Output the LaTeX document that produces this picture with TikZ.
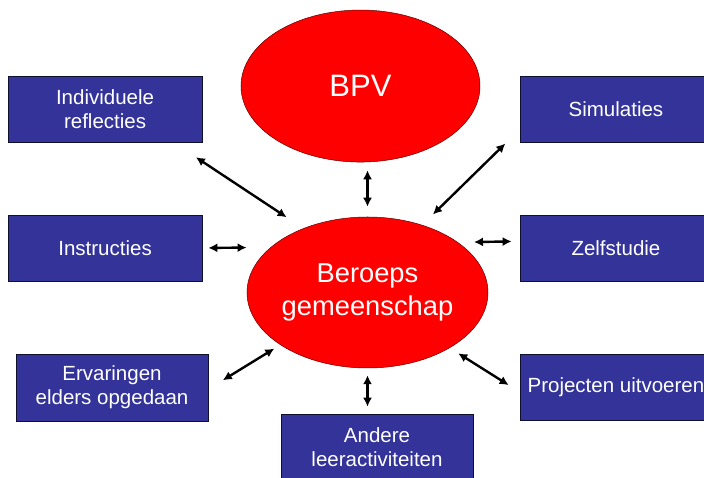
\documentclass[tikz,border=0pt]{standalone}
\usepackage{fontspec}
\setmainfont{Liberation Sans}
\usepackage{tikz}
\usetikzlibrary{shapes.geometric,arrows.meta}

\definecolor{blobred}{RGB}{255,0,0}
\definecolor{boxblue}{RGB}{51,51,153}

\begin{document}
\begin{tikzpicture}[
    node distance=1cm,
    blob/.style={ellipse, draw=black!60!red, line width=0.5pt, fill=blobred, text=white,
      inner sep=-5pt, align=center},
    box/.style={rectangle, draw=black!70!boxblue, line width=0.6pt, fill=boxblue, text=white,
      minimum width=192pt, minimum height=66pt, inner sep=1pt, align=center,
      font=\fontsize{20.5}{24}\selectfont},
    link/.style={<->, >={Latex[length=9pt,width=9pt]}, line width=2.4pt}
  ]
      \useasboundingbox (-367.5pt,-185.5pt) rectangle (336.5pt,292.5pt);
      \clip (-367.5pt,-185.5pt) rectangle (336.5pt,292.5pt);

      \node [blob, minimum width=241pt, minimum height=151pt, font=\fontsize{27.3}{33}\selectfont] (kern) at (0,0) {Beroeps\\gemeenschap};
      \node [blob, above of=kern, xshift=-7pt, yshift=178pt, minimum width=239pt, minimum height=152pt, font=\fontsize{31}{36}\selectfont] (bpv) {BPV};

      \node [box, left of=kern, xshift=-234pt, yshift=44.5pt, minimum width=194pt] (instr) {Instructies};
      \node [box, above of=instr, yshift=110.5pt, minimum width=194pt] (refl) {Individuele\\reflecties};
      \node [box, below of=instr, xshift=7pt, yshift=-111pt, minimum height=67pt] (erv) {Ervaringen\\elders opgedaan};

      \node [box, right of=kern, xshift=220pt, yshift=44.5pt] (zelf) {Zelfstudie};
      \node [box, above of=zelf, yshift=110.5pt] (simu) {Simulaties};
      \node [box, below of=zelf, yshift=-110.5pt] (proj) {Projecten uitvoeren};

      \node [box, below of=kern, xshift=9.5pt, yshift=-126pt] (andere) {Andere\\leeractiviteiten};

      \draw[link, shorten <=8pt, shorten >=10pt] (bpv.south -| kern.north) -- (kern.north);
      \draw[link, shorten <=27pt, shorten >=20pt] (refl.-26) -- (kern.135);
      \draw[link, shorten <=20pt, shorten >=15pt] (simu.192) -- (kern.51);
      \draw[link, shorten <=6pt, shorten >=24pt] (instr.east) -- (kern.155);
      \draw[link, shorten <=8pt, shorten >=16pt] (zelf.176) -- (kern.29);
      \draw[link, shorten <=17pt, shorten >=7pt] (erv.-1) -- (kern.211);
      \draw[link, shorten <=13pt, shorten >=10pt] (proj.183) -- (kern.-34);
      \draw[link, shorten <=7pt, shorten >=7pt] (kern.south) -- (kern.south |- andere.north);
    \end{tikzpicture}
\end{document}
